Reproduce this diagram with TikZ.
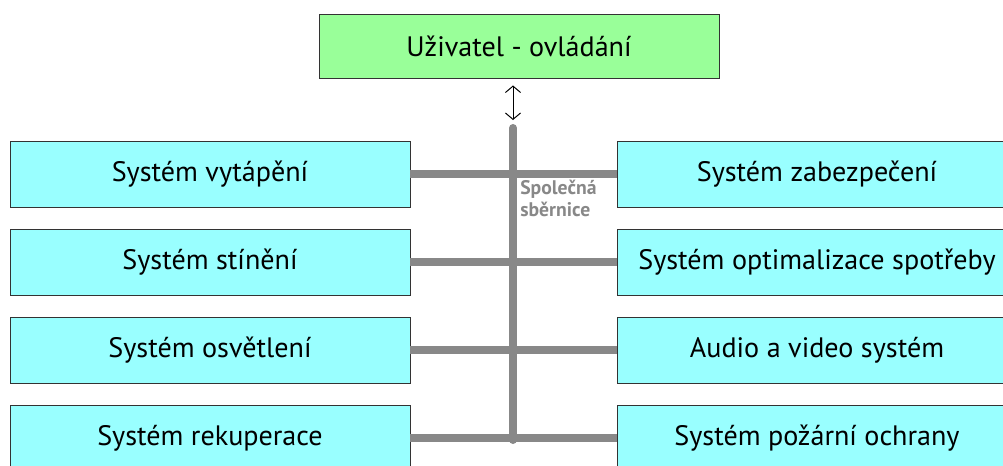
\documentclass[tikz,border=0pt]{standalone}
\usepackage{fontspec}
\setmainfont{PT Sans}
\usepackage{tikz}
\usetikzlibrary{shapes, arrows, arrows.meta}
\definecolor{usergreen}{HTML}{99FF99}
\definecolor{syscyan}{HTML}{99FFFF}
\definecolor{busgray}{HTML}{888888}
\tikzstyle{user} = [rectangle, draw=black!80, fill=usergreen, minimum width=10cm,
    minimum height=1.6cm, text centered, font=\fontsize{20}{24}\selectfont]
\tikzstyle{system} = [rectangle, draw=black!80, fill=syscyan, minimum width=10cm,
    minimum height=1.65cm, text centered, font=\fontsize{20}{24}\selectfont]
\tikzstyle{bus} = [draw=busgray, line width=0.2cm]
\tikzstyle{busname} = [text=busgray, align=left, inner sep=0pt,
    font=\bfseries\fontsize{14}{15.5}\selectfont]
\tikzstyle{updown} = [draw, {Straight Barb[length=0.16cm, width=0.38cm]}-{Straight Barb[length=0.16cm, width=0.38cm]}, line width=0.7pt]

\begin{document}
\begin{tikzpicture}[node distance = 2.2cm, auto]
        \clip (0,0) rectangle (25.075,-11.625);
        % Place nodes
        \node [user] (user) at (12.975,-1.15) {Uživatel - ovládání};
        \node [system] (heating) at (5.25,-4.35) {Systém vytápění};
        \node [system, below of=heating] (shading) {Systém stínění};
        \node [system, below of=shading] (lighting) {Systém osvětlení};
        \node [system, below of=lighting] (recovery) {Systém rekuperace};
        \node [system] (security) at (20.425,-4.35) {Systém zabezpečení};
        \node [system, below of=security] (optimal) {Systém optimalizace spotřeby};
        \node [system, below of=optimal] (audio) {Audio a video systém};
        \node [system, below of=audio] (fire) {Systém požární ochrany};
        \coordinate (bustop) at (12.825,-3.2);
        \coordinate (busend) at (12.825,-11.0);
        \node [busname, anchor=north west] (busname) at (13.0,-4.5) {Společná\\sběrnice};
        % Draw edges
        \path [bus, line cap=round] (bustop) -- (busend);
        \path [bus] (heating.east) -- (security.west);
        \path [bus] (shading.east) -- (optimal.west);
        \path [bus] (lighting.east) -- (audio.west);
        \path [bus] (recovery.east) -- (fire.west);
        \path [updown] ([yshift=-0.18cm]user.south -| bustop) -- ([yshift=0.2cm]bustop);
    \end{tikzpicture}
\end{document}
